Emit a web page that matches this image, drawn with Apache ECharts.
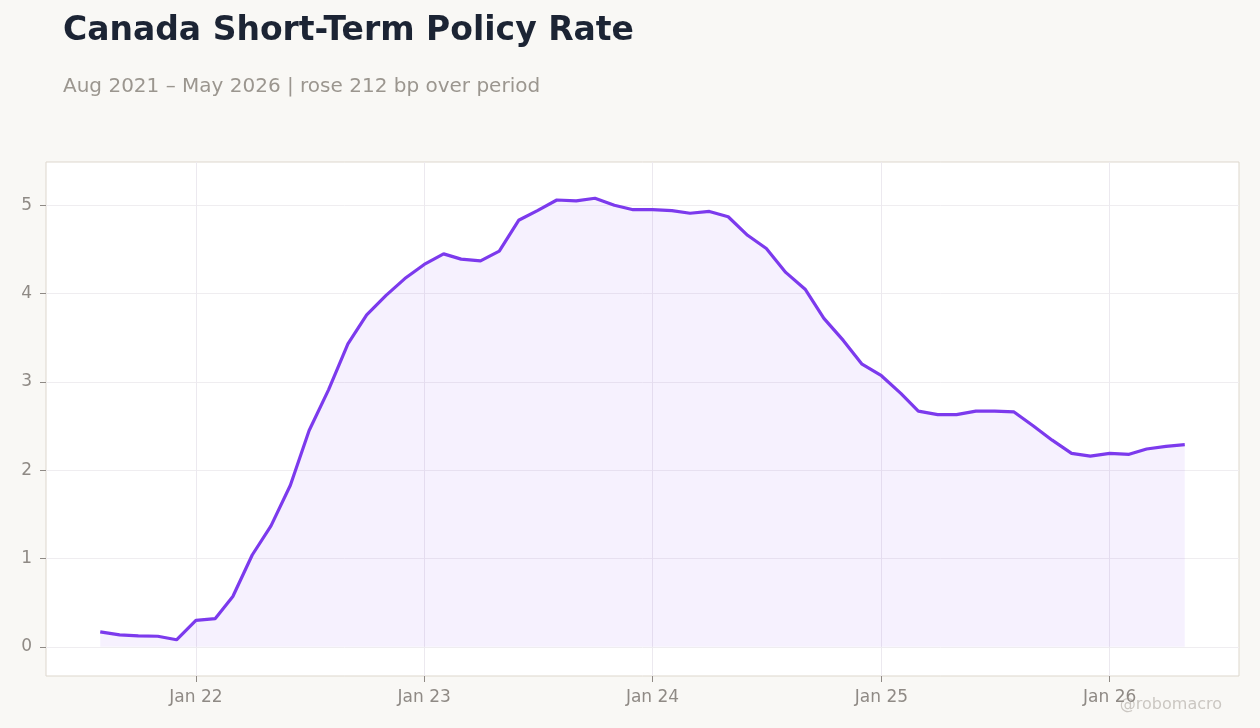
<!DOCTYPE html>
<html>
<head>
<meta charset="utf-8">
<script src="https://cdn.jsdelivr.net/npm/echarts@6/dist/echarts.min.js"></script>
<style>
  html, body { margin: 0; padding: 0; background: #f9f8f5; }
  #chart { width: 1260px; height: 728px; }
</style>
</head>
<body>
<div id="chart"></div>
<script>
// monthly observations, first one is Aug 2021
var startYear = 2021;
var startMonth = 7; // 0-based, Aug
var rates = [
  0.17, 0.135, 0.125, 0.12, 0.08,
  0.30, 0.32, 0.57, 1.04, 1.37, 1.83, 2.45, 2.91, 3.43, 3.76, 3.98, 4.17,
  4.33, 4.45, 4.39, 4.37, 4.48, 4.83, 4.94, 5.06, 5.05, 5.08, 5.00, 4.95,
  4.95, 4.94, 4.91, 4.93, 4.87, 4.66, 4.51, 4.24, 4.05, 3.72, 3.47, 3.20,
  3.07, 2.87, 2.67, 2.63, 2.63, 2.67, 2.67, 2.66, 2.50, 2.34, 2.19, 2.16,
  2.19, 2.18, 2.24, 2.27, 2.29
];
var tickYears = [2022, 2023, 2024, 2025, 2026];
var tickLabels = ['Jan 22', 'Jan 23', 'Jan 24', 'Jan 25', 'Jan 26'];
var yTicks = [0, 1, 2, 3, 4, 5];

var seriesData = [];
for (var i = 0; i < rates.length; i++) {
  var d = new Date(startYear, startMonth + i, 1);
  seriesData.push([d.getTime(), rates[i]]);
}
var tickValues = [];
for (var j = 0; j < tickYears.length; j++) {
  tickValues.push(new Date(tickYears[j], 0, 1).getTime());
}

// 5% padding either side of the data, like the original
var t0 = seriesData[0][0];
var t1 = seriesData[seriesData.length - 1][0];
var pad = (t1 - t0) * 0.05;

var font = 'DejaVu Sans';
var chart = echarts.init(document.getElementById('chart'));

var option = {
  backgroundColor: '#f9f8f5',
  animation: false,
  title: [
    {
      text: 'Canada Short-Term Policy Rate',
      left: 58, top: 10,
      textStyle: { fontFamily: font, fontSize: 33, fontWeight: 'bold', color: '#1c2434' }
    },
    {
      text: 'Aug 2021 \u2013 May 2026 | rose 212 bp over period',
      left: 58, top: 72,
      textStyle: { fontFamily: font, fontSize: 20, fontWeight: 'normal', color: '#9b968f' }
    }
  ],
  graphic: [
    {
      type: 'text', right: 38, top: 697,
      style: { text: '@robomacro', font: '16px "DejaVu Sans"', fill: '#cbc7c2' }
    }
  ],
  grid: {
    left: 46, right: 21, top: 162, bottom: 52,
    show: true,
    backgroundColor: '#ffffff',
    borderColor: '#ddd7cd',
    borderWidth: 1
  },
  xAxis: {
    type: 'value',
    min: t0 - pad,
    max: t1 + pad,
    axisLine: { show: false, onZero: false },
    axisTick: {
      show: true, length: 6,
      customValues: tickValues,
      lineStyle: { color: '#8f8a85' }
    },
    axisLabel: {
      customValues: tickValues,
      margin: 13,
      fontFamily: font, fontSize: 17, color: '#8f8a85',
      formatter: function (v) {
        var k = tickValues.indexOf(v);
        return k >= 0 ? tickLabels[k] : '';
      }
    },
    splitLine: { show: true, lineStyle: { color: '#ece9ef', width: 1 } }
  },
  yAxis: {
    type: 'value',
    min: -0.33,
    max: 5.49,
    axisLine: { show: false, onZero: false },
    axisTick: {
      show: true, length: 6,
      customValues: yTicks,
      lineStyle: { color: '#8f8a85' }
    },
    axisLabel: {
      customValues: yTicks,
      margin: 14,
      fontFamily: font, fontSize: 17, color: '#8f8a85'
    },
    splitLine: { show: true, lineStyle: { color: '#efedf0', width: 1 } }
  },
  series: [
    {
      type: 'line',
      data: seriesData,
      symbol: 'none',
      lineStyle: { color: '#7c3aed', width: 3.2 },
      itemStyle: { color: '#7c3aed' },
      areaStyle: { color: 'rgba(124,58,237,0.1)', origin: 0 }
    }
  ]
};
chart.setOption(option);
</script>
</body>
</html>
